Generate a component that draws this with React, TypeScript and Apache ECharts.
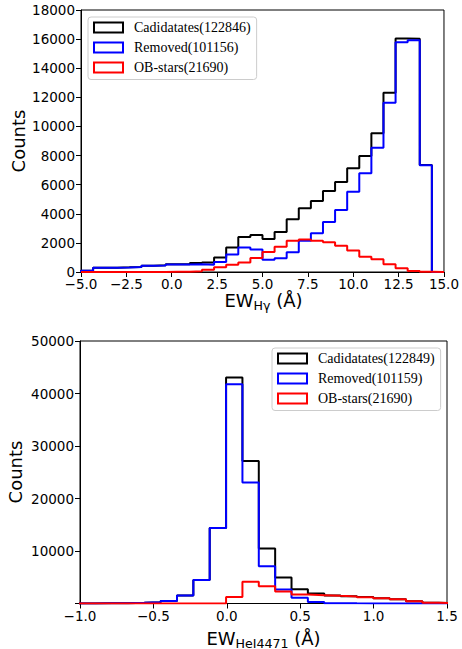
import React, { useEffect, useRef } from 'react';
import * as echarts from 'echarts';

// ---------- Top panel: EW(Hγ) histogram ----------
const hgEdgeStart = -5;
const hgBinWidth = 2 / 3;
const hgCandidates = [80, 290, 300, 320, 345, 430, 460, 525, 530, 610, 660, 1000, 1690, 2400, 2540, 2270, 2740, 3620, 4380, 4880, 5570, 6180, 7120, 7970, 9530, 12320, 16050, 16020, 7350, 0];
const hgRemoved = [80, 285, 295, 315, 340, 430, 455, 520, 520, 525, 500, 680, 1200, 1680, 1540, 850, 940, 1350, 2150, 2660, 3440, 4260, 5520, 6780, 8540, 11630, 15780, 15930, 7330, 0];
const hgObStars = [0, 0, 0, 0, 0, 0, 5, 10, 15, 60, 150, 330, 500, 650, 960, 1380, 1740, 2150, 2240, 2150, 2040, 1810, 1470, 1050, 870, 530, 250, 70, 20, 0];
const hgNames = ['Cadidatates(122846)', 'Removed(101156)', 'OB-stars(21690)'];

// ---------- Bottom panel: EW(HeI4471) histogram ----------
const heEdgeStart = -1.008;
const heBinWidth = 0.11145;
const heCandidates = [20, 40, 60, 120, 250, 500, 1520, 4500, 14400, 43050, 27160, 10480, 4950, 2700, 1890, 1520, 1380, 1215, 1010, 805, 445, 127, 110];
const heRemoved = [20, 40, 60, 120, 250, 500, 1520, 4500, 14400, 41770, 23050, 7100, 2670, 1100, 300, 60, 30, 15, 10, 5, 0, 0, 0];
const heObStars = [0, 0, 0, 0, 0, 0, 0, 0, 0, 1260, 4120, 3300, 2290, 1710, 1590, 1460, 1350, 1200, 1000, 800, 445, 127, 110];
const heNames = ['Cadidatates(122849)', 'Removed(101159)', 'OB-stars(21690)'];

const seriesColors = ['#000000', '#0000ff', '#ff0000'];

function stepPoints(start: number, width: number, counts: number[]) {
  const pts: number[][] = [[start, 0]];
  counts.forEach((c, i) => {
    const a = start + i * width;
    pts.push([a, c]);
    pts.push([a + width, c]);
  });
  pts.push([start + counts.length * width, 0]);
  return pts;
}

const SANS = 'DejaVu Sans';
const SERIF = 'Liberation Serif';

function fmtX(v: number) {
  const s = Math.abs(v).toFixed(1);
  return v < -1e-9 ? '\u2212' + s : s;
}

let measureCtx: CanvasRenderingContext2D | null = null;
function tw(text: string, size: number) {
  if (!measureCtx) measureCtx = document.createElement('canvas').getContext('2d');
  measureCtx!.font = `${size}px "${SANS}"`;
  return measureCtx!.measureText(text).width;
}

function axisName(cx: number, cy: number, sub: string) {
  const mainSize = 18;
  const subSize = 12.6;
  const w1 = tw('EW', mainSize);
  const w2 = tw(sub, subSize);
  const w3 = tw(' (Å)', mainSize);
  const x0 = cx - (w1 + w2 + w3) / 2;
  const base = { fill: '#000', fontFamily: SANS, align: 'left', textAlign: 'left', verticalAlign: 'middle', textVerticalAlign: 'middle' };
  return [
    { type: 'text', x: x0, y: cy, style: { ...base, text: 'EW', fontSize: mainSize } },
    { type: 'text', x: x0 + w1, y: cy + 5, style: { ...base, text: sub, fontSize: subSize } },
    { type: 'text', x: x0 + w1 + w2, y: cy, style: { ...base, text: ' (Å)', fontSize: mainSize } },
  ];
}

function countsLabel(x: number, y: number) {
  return {
    type: 'text', x, y, rotation: Math.PI / 2,
    style: { text: 'Counts', fill: '#000', fontFamily: SANS, fontSize: 18, align: 'center', textAlign: 'center', verticalAlign: 'middle', textVerticalAlign: 'middle' },
  };
}

const axisLineStyle = { show: true, onZero: false, lineStyle: { color: '#000', width: 1 } };
const tickStyle = { show: true, inside: false, length: 5, lineStyle: { color: '#000', width: 1 } };
const labelFont = { color: '#000', fontFamily: SANS, fontSize: 13.5 };

function legendFor(names: string[], left: number, top: number) {
  return {
    orient: 'vertical', left, top,
    padding: [3.5, 6, 5, 5],
    itemWidth: 29, itemHeight: 10, itemGap: 6,
    backgroundColor: 'rgba(255,255,255,0.8)',
    borderColor: '#cccccc', borderWidth: 1, borderRadius: 3,
    selectedMode: false,
    textStyle: { color: '#000', fontFamily: SERIF, fontSize: 14, lineHeight: 14, padding: [0, 0, 0, 6] },
    data: names.map((n, i) => ({
      name: n, icon: 'rect',
      itemStyle: { color: '#ffffff', borderColor: seriesColors[i], borderWidth: 2 },
    })),
  };
}

export default function App() {
  const ref = useRef<HTMLDivElement>(null);
  useEffect(() => {
    if (!ref.current) return;
    const chart = echarts.init(ref.current, undefined, { renderer: 'svg' });
    const topSets = [hgCandidates, hgRemoved, hgObStars];
    const botSets = [heCandidates, heRemoved, heObStars];
    const series: any[] = [];
    topSets.forEach((d, i) => series.push({
      name: hgNames[i], type: 'line', xAxisIndex: 0, yAxisIndex: 0,
      data: stepPoints(hgEdgeStart, hgBinWidth, d), symbol: 'none', showSymbol: false,
      color: seriesColors[i], lineStyle: { color: seriesColors[i], width: 2 }, z: 2 + i,
    }));
    botSets.forEach((d, i) => series.push({
      name: heNames[i], type: 'line', xAxisIndex: 1, yAxisIndex: 1,
      data: stepPoints(heEdgeStart, heBinWidth, d), symbol: 'none', showSymbol: false,
      color: seriesColors[i], lineStyle: { color: seriesColors[i], width: 2 }, z: 2 + i,
    }));

    chart.setOption({
      animation: false,
      backgroundColor: '#ffffff',
      grid: [
        { left: 81, top: 10, width: 365, height: 262, show: true, borderColor: '#000', borderWidth: 1, backgroundColor: 'transparent' },
        { left: 80, top: 341, width: 367, height: 262.5, show: true, borderColor: '#000', borderWidth: 1, backgroundColor: 'transparent' },
      ],
      xAxis: [
        {
          gridIndex: 0, type: 'value', min: -5, max: 15, interval: 2.5,
          axisLine: axisLineStyle, axisTick: tickStyle, splitLine: { show: false },
          axisLabel: { ...labelFont, margin: 5, formatter: fmtX, showMinLabel: true, showMaxLabel: true },
        },
        {
          gridIndex: 1, type: 'value', min: -1, max: 1.5, interval: 0.5,
          axisLine: axisLineStyle, axisTick: tickStyle, splitLine: { show: false },
          axisLabel: { ...labelFont, margin: 5, formatter: fmtX, showMinLabel: true, showMaxLabel: true },
        },
      ],
      yAxis: [
        {
          gridIndex: 0, type: 'value', min: 0, max: 18000, interval: 2000,
          axisLine: axisLineStyle, axisTick: tickStyle, splitLine: { show: false },
          axisLabel: { ...labelFont, margin: 6, formatter: (v: number) => String(v) },
        },
        {
          gridIndex: 1, type: 'value', min: 0, max: 50000, interval: 10000,
          axisLine: axisLineStyle, axisTick: tickStyle, splitLine: { show: false },
          axisLabel: { ...labelFont, margin: 6, formatter: (v: number) => (v === 0 ? '' : String(v)) },
        },
      ],
      legend: [legendFor(hgNames, 88, 17), legendFor(heNames, 272, 348)],
      graphic: [
        countsLabel(18.5, 141),
        countsLabel(15, 472),
        ...axisName(263.5, 300, 'Hγ'),
        ...axisName(263.5, 638, 'HeI4471'),
      ],
      series,
    });
    return () => chart.dispose();
  }, []);
  return <div ref={ref} style={{ position: 'absolute', left: 0, top: 0, width: 462, height: 649 }} />;
}
